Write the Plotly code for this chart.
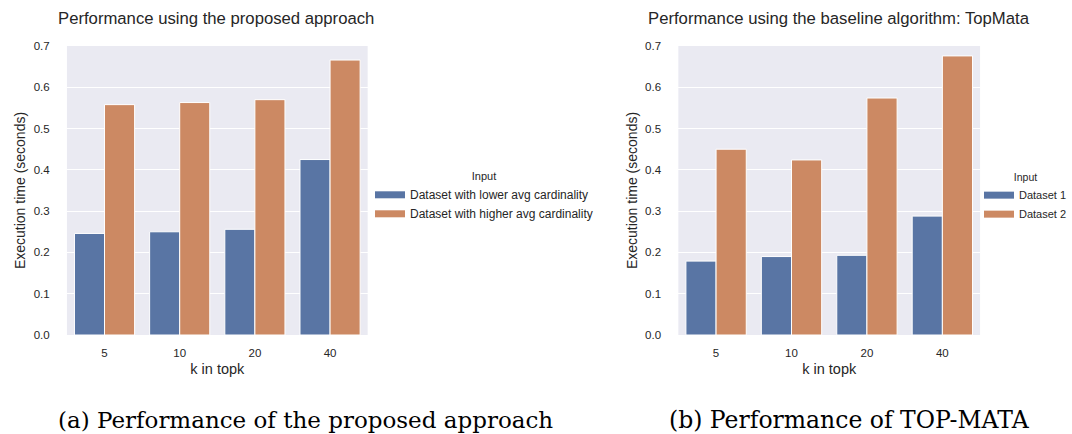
import plotly.graph_objects as go
from plotly.subplots import make_subplots

categories = ["5", "10", "20", "40"]
left_low = [0.246, 0.250, 0.256, 0.425]
left_high = [0.558, 0.563, 0.570, 0.666]
right_d1 = [0.179, 0.190, 0.193, 0.288]
right_d2 = [0.450, 0.424, 0.574, 0.676]
left_names = ["Dataset with lower avg cardinality", "Dataset with higher avg cardinality"]
right_names = ["Dataset 1", "Dataset 2"]
y_ticks = [0.0, 0.1, 0.2, 0.3, 0.4, 0.5, 0.6, 0.7]

BLUE = "#5975A4"
ORANGE = "#CC8963"
BG = "#EAEAF2"
FONT = "Liberation Sans, Arial, sans-serif"
TXT = "#262626"

fig = make_subplots(rows=1, cols=2)

series = [
    (left_low, left_names[0], BLUE, "legend", 1),
    (left_high, left_names[1], ORANGE, "legend", 1),
    (right_d1, right_names[0], BLUE, "legend2", 2),
    (right_d2, right_names[1], ORANGE, "legend2", 2),
]
for vals, name, color, leg, col in series:
    fig.add_trace(go.Bar(x=categories, y=vals, name=name, showlegend=False,
                         marker=dict(color=color, line=dict(color="white", width=1))), row=1, col=col)
    # legend swatch (wide rectangle like seaborn's legend patch)
    fig.add_trace(go.Scatter(x=[None], y=[None], mode="lines", name=name, legend=leg,
                             line=dict(color=color, width=7), hoverinfo="skip"), row=1, col=col)

W, H = 1072, 434
ytop = 1 - 46 / H
ybot = 1 - 335 / H

xaxis_common = dict(type="category", categoryarray=categories, categoryorder="array",
                    showgrid=False, zeroline=False, showline=False, automargin=False,
                    ticks="outside", ticklen=7, tickcolor="rgba(0,0,0,0)",
                    tickfont=dict(size=11.5, color=TXT, family=FONT),
                    title=dict(text="k in topk", font=dict(size=14.5, color=TXT, family=FONT), standoff=6))
yaxis_common = dict(range=[0, 0.7], tickvals=y_ticks, tickformat=".1f", showgrid=True, gridcolor="white",
                    gridwidth=1.3, zeroline=False, showline=False, automargin=False,
                    ticks="outside", ticklen=14, tickcolor="rgba(0,0,0,0)",
                    tickfont=dict(size=11.5, color=TXT, family=FONT),
                    title=dict(text="Execution time (seconds)", font=dict(size=14, color=TXT, family=FONT), standoff=4))

fig.update_layout(
    xaxis=dict(domain=[67 / W, 368 / W], **xaxis_common),
    xaxis2=dict(domain=[679 / W, 981 / W], **xaxis_common),
    yaxis=dict(domain=[ybot, ytop], **yaxis_common),
    yaxis2=dict(domain=[ybot, ytop], **yaxis_common),
)

fig.update_layout(
    width=W, height=H,
    margin=dict(l=0, r=0, t=0, b=0),
    paper_bgcolor="white",
    plot_bgcolor=BG,
    barmode="group", bargap=0.2, bargroupgap=0,
    font=dict(family=FONT, color=TXT),
    legend=dict(x=370 / W, y=1 - 166 / H, xanchor="left", yanchor="top",
                title=dict(text="Input", side="top center", font=dict(size=11, color=TXT)),
                font=dict(size=12, color=TXT), bgcolor="rgba(0,0,0,0)",
                itemwidth=30, tracegroupgap=0),
    legend2=dict(x=980 / W, y=1 - 167 / H, xanchor="left", yanchor="top",
                 title=dict(text="Input", side="top center", font=dict(size=10.5, color=TXT)),
                 font=dict(size=11, color=TXT), bgcolor="rgba(0,0,0,0)",
                 itemwidth=30, tracegroupgap=0),
    annotations=[
        dict(text="Performance using the proposed approach", x=56 / W, y=1 - 18 / H, xref="paper", yref="paper",
             xanchor="left", yanchor="middle", showarrow=False, font=dict(size=16.7, color=TXT, family=FONT)),
        dict(text="Performance using the baseline algorithm: TopMata", x=647 / W, y=1 - 18 / H, xref="paper", yref="paper",
             xanchor="left", yanchor="middle", showarrow=False, font=dict(size=16.7, color=TXT, family=FONT)),
        dict(text="(a) Performance of the proposed approach", x=306 / W, y=1 - 420 / H, xref="paper", yref="paper",
             xanchor="center", yanchor="middle", showarrow=False, font=dict(size=23, color="black", family="DejaVu Serif, Liberation Serif, serif")),
        dict(text="(b) Performance of TOP-MATA", x=850 / W, y=1 - 420 / H, xref="paper", yref="paper",
             xanchor="center", yanchor="middle", showarrow=False, font=dict(size=23.5, color="black", family="DejaVu Serif, Liberation Serif, serif")),
    ],
)

fig.write_html("out.html", config={"displayModeBar": False},
               post_script="document.body.style.margin='0';document.body.style.overflow='hidden';")
